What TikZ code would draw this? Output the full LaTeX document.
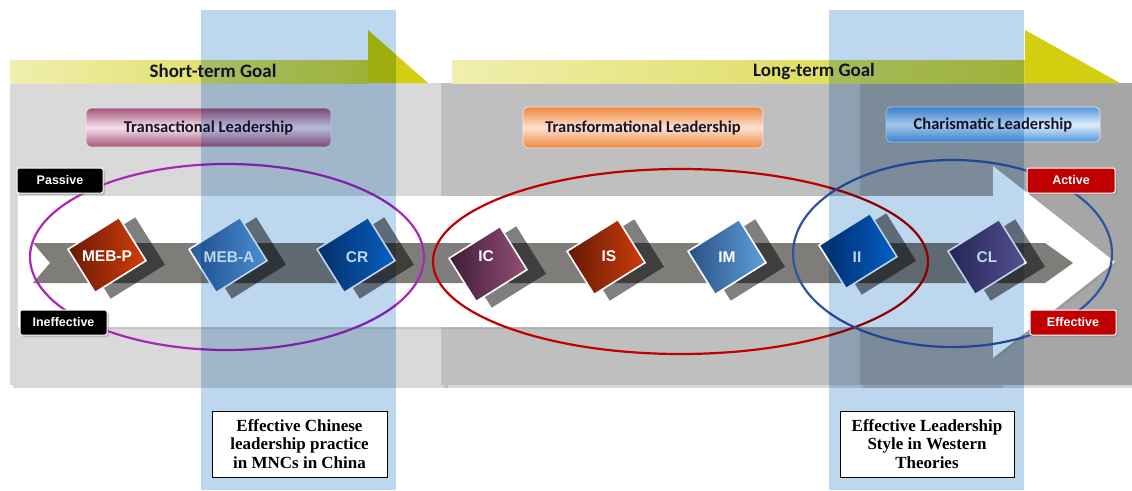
\documentclass[tikz,border=0pt]{standalone}
\usepackage{fontspec}
\setmainfont{Liberation Serif}
\setsansfont{Carlito}
\newfontfamily\arialfont{Liberation Sans}
\usetikzlibrary{shadows}

\definecolor{panelA}{RGB}{217,217,217}
\definecolor{panelB}{RGB}{191,191,191}
\definecolor{panelC}{RGB}{166,166,166}
\definecolor{band}{RGB}{127,125,122}
\definecolor{colBlue}{RGB}{189,215,238}
\definecolor{goalL}{RGB}{240,239,175}
\definecolor{goalR}{RGB}{214,212,60}
\definecolor{goalHead}{RGB}{212,206,16}
\definecolor{textdark}{RGB}{22,22,40}
\definecolor{tagred}{RGB}{192,0,0}
\definecolor{ellPurple}{RGB}{170,40,180}
\definecolor{ellRed}{RGB}{192,0,0}
\definecolor{ellBlue}{RGB}{46,84,160}
% header colours
\definecolor{transEdge}{RGB}{165,85,125}
\definecolor{transMid}{RGB}{244,226,235}
\definecolor{transfEdge}{RGB}{240,135,60}
\definecolor{transfMid}{RGB}{253,225,210}
\definecolor{charEdge}{RGB}{80,150,220}
\definecolor{charMid}{RGB}{222,238,250}
% tile colours
\definecolor{mebpD}{RGB}{105,25,5}    \definecolor{mebpL}{RGB}{210,62,10}
\definecolor{mebaD}{RGB}{40,90,150}   \definecolor{mebaL}{RGB}{100,170,225}
\definecolor{crD}{RGB}{10,55,110}     \definecolor{crL}{RGB}{5,115,210}
\definecolor{icD}{RGB}{60,28,55}      \definecolor{icL}{RGB}{150,80,120}
\definecolor{isD}{RGB}{100,25,5}      \definecolor{isL}{RGB}{205,62,10}
\definecolor{imD}{RGB}{40,80,130}     \definecolor{imL}{RGB}{95,160,220}
\definecolor{iiD}{RGB}{0,50,110}      \definecolor{iiL}{RGB}{5,115,215}
\definecolor{clD}{RGB}{50,45,90}      \definecolor{clL}{RGB}{115,95,155}

\tikzset{
  tile/.style={draw=white,line width=1.6pt,minimum width=60pt,minimum height=51pt,rotate=32,inner sep=0pt},
  tileshadow/.style={fill=black,opacity=0.5,minimum width=64pt,minimum height=56pt,rotate=32,inner sep=0pt},
  tiletext/.style={text=white,font=\arialfont\bfseries\fontsize{15.5}{15.5}\selectfont},
  tag/.style={rounded corners=2pt,draw=white,line width=1pt,text=white,minimum height=25pt,
    font=\arialfont\bfseries\fontsize{12.5}{12.5}\selectfont,drop shadow={opacity=0.4,shadow xshift=2pt,shadow yshift=-2pt}},
  headbox/.style={rounded corners=5pt,draw=white!85!gray,line width=0.6pt,text=textdark,
    font=\sffamily\bfseries\fontsize{16.5}{16.5}\selectfont},
  goaltext/.style={text=textdark,font=\sffamily\bfseries\fontsize{19}{19}\selectfont},
  notebox/.style={draw=black,fill=white,line width=0.8pt,align=center,text=black,inner sep=2pt,
    font=\bfseries\fontsize{17}{18.5}\selectfont},
  panel/.style={drop shadow={opacity=0.3,shadow xshift=3pt,shadow yshift=-3pt}}
}

\begin{document}
\begin{tikzpicture}[x=1pt,y=-1pt]
\useasboundingbox[fill=white] (0,0) rectangle (1132,490);
% panels
\fill[panelA,panel] (10,83) rectangle (445,385);
\fill[panelB,panel] (441,83) rectangle (1000,385);
\fill[panelC,panel] (860,83) rectangle (1132,385);
% goals
\shade[left color=goalL,right color=goalR] (10,60) rectangle (368,83);
\fill[goalHead] (368,30) -- (428,83) -- (368,83) -- cycle;
\node[goaltext] (short) at (213,71) {Short-term Goal};
\shade[left color=goalL,right color=goalR] (452,60) rectangle (1025,83);
\fill[goalHead] (1025,30) -- (1120,83) -- (1025,83) -- cycle;
\node[goaltext] (long) at (814,71) {Long-term Goal};
% leadership
\node[headbox,top color=transEdge,bottom color=transEdge,middle color=transMid,
  minimum width=245pt,minimum height=39pt] (trans) at (208.5,127.5) {Transactional Leadership};
\node[headbox,top color=transfEdge,bottom color=transfEdge,middle color=transfMid,
  minimum width=240pt,minimum height=41pt] (transf) at (643,127.5) {Transformational Leadership};
\node[headbox,top color=charEdge,bottom color=charEdge,middle color=charMid,
  minimum width=214pt,minimum height=35pt] (char) at (993,124.5) {Charismatic Leadership};
% big arrow
\fill[white,drop shadow={opacity=0.25,shadow xshift=2pt,shadow yshift=-2pt}]
  (18,196) -- (993,196) -- (993,166) -- (1115,262) -- (993,358) -- (993,327) -- (18,327) -- cycle;
\fill[band] (33,243) -- (1045,243) -- (1073,263) -- (1045,283) -- (33,283) -- (50,263) -- cycle;
% ellipses
\draw[ellPurple,line width=2.2pt] (227,257) ellipse [x radius=197,y radius=93];
\draw[ellRed,line width=2.2pt] (680.5,261.5) ellipse [x radius=247.5,y radius=92.5];
\draw[ellBlue,line width=2.2pt] (952.5,253.5) ellipse [x radius=159.5,y radius=93.5];
% tiles
\node[tileshadow] (s1) at (123,258) {};
\node[tile,left color=mebpD,right color=mebpL] (mebp) at (107,255) {};
\node[tiletext] (mebp-t) at (107,256) {MEB-P};
\node[tileshadow] (s2) at (244,258) {};
\node[tile,left color=mebaD,right color=mebaL] (meba) at (228,255) {};
\node[tiletext] (meba-t) at (229,257) {MEB-A};
\node[tileshadow] (s3) at (372,258) {};
\node[tile,left color=crD,right color=crL] (cr) at (356,255) {};
\node[tiletext] (cr-t) at (357,257) {CR};
\node[tileshadow] (s4) at (504,267) {};
\node[tile,left color=icD,right color=icL] (ic) at (488,264) {};
\node[tiletext] (ic-t) at (486,256) {IC};
\node[tileshadow] (s5) at (622,260) {};
\node[tile,left color=isD,right color=isL] (is) at (606,257) {};
\node[tiletext] (is-t) at (609,256) {IS};
\node[tileshadow] (s6) at (743,260) {};
\node[tile,left color=imD,right color=imL] (im) at (727,257) {};
\node[tiletext] (im-t) at (727,257) {IM};
\node[tileshadow] (s7) at (874,254) {};
\node[tile,left color=iiD,right color=iiL] (ii) at (858,251) {};
\node[tiletext] (ii-t) at (857,257) {II};
\node[tileshadow] (s8) at (1003,260) {};
\node[tile,left color=clD,right color=clL] (cl) at (987,257) {};
\node[tiletext] (cl-t) at (987,257) {CL};
% tags
\node[tag,fill=black,minimum width=86pt] (passive) at (60,180.5) {Passive};
\node[tag,fill=black,minimum width=87pt] (ineff) at (63.5,322.5) {Ineffective};
\node[tag,fill=tagred,minimum width=88pt] (active) at (1071,180.5) {Active};
\node[tag,fill=tagred,minimum width=86pt] (eff) at (1073,322.5) {Effective};
% blue columns
\begin{scope}[blend mode=multiply]
\fill[colBlue] (201,10) rectangle (396,490);
\fill[colBlue] (829,10) rectangle (1024,490);
\end{scope}
\node[notebox,minimum width=175pt,minimum height=66pt] (chn) at (299.5,444)
  {Effective Chinese\\leadership practice\\in MNCs in China};
\node[notebox,minimum width=174pt,minimum height=66pt] (west) at (927,444)
  {Effective Leadership\\Style in Western\\Theories};
\end{tikzpicture}
\end{document}
